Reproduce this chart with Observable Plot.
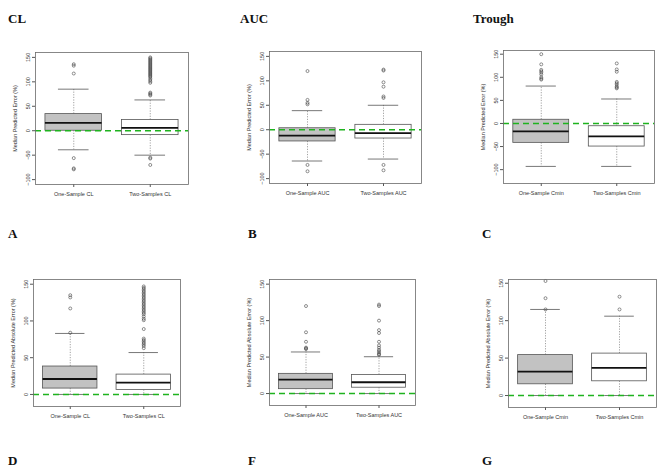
<!DOCTYPE html>
<html>
<head>
<meta charset="utf-8">
<script src="https://cdn.jsdelivr.net/npm/d3@7"></script>
<script src="https://cdn.jsdelivr.net/npm/@observablehq/plot@0.6"></script>
<style>
  html, body { margin: 0; padding: 0; background: #fff; }
  #root { position: relative; width: 669px; height: 474px; overflow: hidden; background: #fff; }
  .ttl { position: absolute; font-family: "Liberation Serif", "Times New Roman", serif; font-weight: bold; font-size: 13px; line-height: 13px; color: #111; }
  .panel { position: absolute; }
</style>
</head>
<body>
<div id="root"></div>
<script>
// ---------- data ----------
const titlesTop = ["CL", "AUC", "Trough"];
const lettersMid = ["A", "B", "C"];
const lettersBottom = ["D", "F", "G"];

const labelsCL = ["One-Sample CL", "Two-Samples CL"];
const labelsAUC = ["One-Sample AUC", "Two-Samples AUC"];
const labelsCmin = ["One-Sample Cmin", "Two-Samples Cmin"];

const ylabelError = "Median Predicted Error (%)";
const ylabelAbs = "Median Predicted Absolute Error (%)";

const ticksError = [-100, -50, 0, 50, 100, 150];
const ticksAbs = [0, 50, 100, 150];

// box statistics: lower whisker, q1, median, q3, upper whisker
const errorCL = [
  {lo: -39, q1: 0, med: 16, q3: 34, hi: 85},
  {lo: -50, q1: -9, med: 6, q3: 22, hi: 63}
];
const errorCLOut = [
  [136, 133, 117, -56, -77, -79],
  [150, 148, 146, 144, 142, 140, 138, 136, 134, 132, 130, 128, 126, 124, 122, 120, 118, 116, 114, 112, 110, 107, 104, 101, 98, 78, 76, 74, 72, -55, -57, -70]
];
const errorAUC = [
  {lo: -64, q1: -24, med: -12, q3: 3, hi: 39},
  {lo: -60, q1: -18, med: -7, q3: 10, hi: 50}
];
const errorAUCOut = [
  [120, 61, 55, 52, -72, -85],
  [123, 121, 97, 88, 68, 65, -72, -83]
];
const errorCmin = [
  {lo: -93, q1: -42, med: -17, q3: 8, hi: 81},
  {lo: -93, q1: -50, med: -28, q3: -6, hi: 53}
];
const errorCminOut = [
  [150, 128, 116, 113, 110, 106, 100, 97, 95],
  [130, 117, 112, 90, 87, 84, 80, 78, 76]
];
const absCL = [
  {lo: 0, q1: 8, med: 21, q3: 38, hi: 83},
  {lo: 0, q1: 6, med: 16, q3: 27, hi: 57}
];
const absCLOut = [
  [135, 132, 117, 84],
  [147, 145, 143, 141, 139, 137, 135, 133, 131, 129, 127, 125, 123, 121, 119, 117, 115, 113, 111, 109, 106, 103, 101, 89, 76, 74, 72, 70, 68, 66, 63]
];
const absAUC = [
  {lo: 0, q1: 6, med: 19, q3: 27, hi: 57},
  {lo: 0, q1: 8, med: 15.5, q3: 25.5, hi: 50.5}
];
const absAUCOut = [
  [120, 84, 71, 63, 62, 61],
  [122, 120, 100, 87, 83, 71, 66, 63, 60, 58, 56, 54, 53]
];
const absCmin = [
  {lo: 0, q1: 15, med: 32, q3: 54, hi: 115},
  {lo: 0, q1: 19, med: 37, q3: 56, hi: 106}
];
const absCminOut = [
  [153, 130, 115],
  [132, 115]
];

// ---------- drawing ----------
const root = document.getElementById("root");
const ML = 34, MT = 4, MR = 4, MB = 26;
const boxFill = ["#c2c2c2", "#ffffff"];

function panel(stats, outs, labels, ylabel, ticks, domain, fr) {
  const rows = stats.map((d, i) => ({...d, pos: i + 1, fill: boxFill[i]}));
  const pts = outs.flatMap((arr, i) => arr.map(v => ({pos: i + 1, v})));
  const bw = 0.37, cw = 0.2;
  const chart = Plot.plot({
    width: fr.x1 - fr.x0 + ML + MR,
    height: fr.y1 - fr.y0 + MT + MB,
    marginLeft: ML, marginTop: MT, marginRight: MR, marginBottom: MB,
    x: {domain: [0.5, 2.5], axis: null},
    y: {domain, axis: null},
    color: {type: "identity"},
    style: {fontFamily: "'Liberation Sans', Arial, sans-serif", fontSize: "5.5px", background: "transparent", color: "#333", overflow: "visible"},
    marks: [
      Plot.axisY(ticks, {tickRotate: -90, tickSize: 3, tickPadding: 3, fontSize: 5.5, label: ylabel, labelAnchor: "center", labelArrow: "none", labelOffset: 22, stroke: "#555"}),
      Plot.axisX([1, 2], {tickFormat: i => labels[i - 1], tickSize: 3, tickPadding: 5, fontSize: 5.5, label: null, stroke: "#555"}),
      Plot.ruleX(rows, {x: "pos", y1: "q3", y2: "hi", stroke: "#8a8a8a", strokeWidth: 0.8, strokeDasharray: "1.2,1.4"}),
      Plot.ruleX(rows, {x: "pos", y1: "q1", y2: "lo", stroke: "#8a8a8a", strokeWidth: 0.8, strokeDasharray: "1.2,1.4"}),
      Plot.ruleY(rows, {y: "hi", x1: d => d.pos - cw, x2: d => d.pos + cw, stroke: "#555", strokeWidth: 0.8}),
      Plot.ruleY(rows, {y: "lo", x1: d => d.pos - cw, x2: d => d.pos + cw, stroke: "#555", strokeWidth: 0.8}),
      Plot.rect(rows, {x1: d => d.pos - bw, x2: d => d.pos + bw, y1: "q1", y2: "q3", fill: "fill", stroke: "#555", strokeWidth: 0.8}),
      Plot.ruleY(rows, {y: "med", x1: d => d.pos - bw, x2: d => d.pos + bw, stroke: "#111", strokeWidth: 1.8}),
      Plot.dot(pts, {x: "pos", y: "v", r: 1.5, stroke: "#444", strokeWidth: 0.6, fill: "none"}),
      Plot.ruleY([0], {stroke: "#1fb31f", strokeWidth: 1.4, strokeDasharray: "6,4"}),
      Plot.frame({stroke: "#6a6a6a", strokeWidth: 0.8})
    ]
  });
  chart.classList.add("panel");
  chart.style.left = (fr.x0 - ML) + "px";
  chart.style.top = (fr.y0 - MT) + "px";
  root.appendChild(chart);
}

panel(errorCL, errorCLOut, labelsCL, ylabelError, ticksError, [-110, 160], {x0: 35, x1: 188, y0: 52, y1: 184});
panel(errorAUC, errorAUCOut, labelsAUC, ylabelError, ticksError, [-110, 160], {x0: 269, x1: 421, y0: 51, y1: 183});
panel(errorCmin, errorCminOut, labelsCmin, ylabelError, ticksError, [-130, 158], {x0: 503, x1: 654, y0: 50, y1: 183});
panel(absCL, absCLOut, labelsCL, ylabelAbs, ticksAbs, [-16.4, 156.4], {x0: 33, x1: 180, y0: 279, y1: 406});
panel(absAUC, absAUCOut, labelsAUC, ylabelAbs, ticksAbs, [-16.4, 156.4], {x0: 269, x1: 415, y0: 279, y1: 405});
panel(absCmin, absCminOut, labelsCmin, ylabelAbs, ticksAbs, [-16, 155], {x0: 508, x1: 656, y0: 279, y1: 407});

function title(text, x, y) {
  const d = document.createElement("div");
  d.className = "ttl";
  d.textContent = text;
  d.style.left = x + "px";
  d.style.top = y + "px";
  root.appendChild(d);
}
const titleX = [8, 240, 473];
const letterX = [8, 248, 482];
titlesTop.forEach((t, i) => title(t, titleX[i], 12));
lettersMid.forEach((t, i) => title(t, letterX[i], 227));
lettersBottom.forEach((t, i) => title(t, letterX[i], 454));
</script>
</body>
</html>
